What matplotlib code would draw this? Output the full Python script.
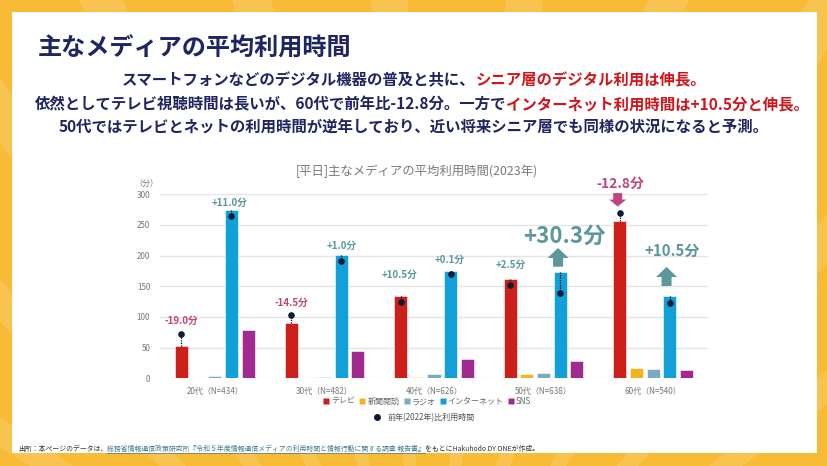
import matplotlib
matplotlib.use('Agg')
import matplotlib.pyplot as plt
from matplotlib.patches import Rectangle, Polygon
from matplotlib.lines import Line2D
import numpy as np

plt.rcParams['font.family'] = ['Noto Sans CJK JP', 'DejaVu Sans']

# ---------------- data ----------------
groups = ['20代（N=434）', '30代（N=482）', '40代（N=626）', '50代（N=638）', '60代（N=540）']
series_names = ['テレビ', '新聞閲読', 'ラジオ', 'インターネット', 'SNS']
tv = [53.2, 89.7, 134.3, 162.0, 256.6]
news = [0.3, 0.4, 2.0, 7.0, 16.0]
radio = [4.3, 2.0, 7.0, 8.6, 15.2]
net = [275.0, 201.1, 175.5, 173.4, 134.3]
sns = [78.8, 45.0, 31.5, 27.7, 13.5]
prev_tv = [72.2, 102.8, 124.0, 152.7, 269.7]
prev_net = [264.7, 191.8, 170.0, 139.7, 122.8]
tv_diff = ['-19.0分', '-14.5分', '+10.5分', '+2.5分', '-12.8分']
net_diff = ['+11.0分', '+1.0分', '+0.1分', '+30.3分', '+10.5分']
yticks = [0, 50, 100, 150, 200, 250, 300]

colors = ['#cc1f1a', '#f2b41c', '#79abc2', '#12a0d8', '#a02a90']
TEAL = '#5b979c'
PINK = '#c2447c'
NAVY = '#1e2560'
RED = '#d0161b'

W, H = 828, 466
fig = plt.figure(figsize=(W / 100, H / 100), dpi=100)
fig.patch.set_facecolor('#f8bb36')


def fx(x):
    return x / W


def fy(y):
    return 1 - y / H


# ---------------- background ----------------
bg = fig.add_axes([0, 0, 1, 1], zorder=0)
bg.set_xlim(0, W)
bg.set_ylim(H, 0)
bg.axis('off')
cx, cy = 420, 700
for ang in np.arange(200, 345, 11):
    a1, a2 = np.deg2rad(ang), np.deg2rad(ang + 3.0)
    R = 1400
    bg.add_patch(Polygon([(cx, cy), (cx + R * np.cos(a1), cy + R * np.sin(a1)),
                          (cx + R * np.cos(a2), cy + R * np.sin(a2))],
                         closed=True, facecolor='#fde3a8', alpha=0.22, lw=0))
bg.add_patch(Rectangle((12, 12), 805, 441, facecolor='white', edgecolor='none'))

# ---------------- texts ----------------
fig.text(fx(38), fy(49), '主なメディアの平均利用時間', size=17.4, weight='bold',
         color=NAVY, va='center', ha='left')

renderer = fig.canvas.get_renderer()


def text_width(s, size, weight):
    t = fig.text(0, 0, s, size=size, weight=weight)
    w = t.get_window_extent(renderer).width
    t.remove()
    return w


def seg_text(segments, x, y, size, weight, center=True, underline=None):
    full = ''.join(s for s, _ in segments)
    total = text_width(full, size, weight)
    x0 = x - total / 2 if center else x
    for i, (s, c) in enumerate(segments):
        rest = ''.join(ss for ss, _ in segments[i:])
        start = x0 + total - text_width(rest, size, weight)
        fig.text(fx(start), fy(y), s, color=c, size=size, weight=weight,
                 va='center', ha='left')
        if underline is not None and i in underline:
            w = text_width(s, size, weight)
            fig.add_artist(Line2D([fx(start), fx(start + w)], [fy(y + 4), fy(y + 4)],
                                  color=c, lw=0.5, transform=fig.transFigure))


seg_text([('スマートフォンなどのデジタル機器の普及と共に、', NAVY),
          ('シニア層のデジタル利用は伸長。', RED)], 414, 80, 11.1, 'bold')
seg_text([('依然としてテレビ視聴時間は長いが、60代で前年比-12.8分。一方で', NAVY),
          ('インターネット利用時間は+10.5分と伸長。', RED)], 422, 104, 11.1, 'bold')
seg_text([('50代ではテレビとネットの利用時間が逆年しており、近い将来シニア層でも同様の状況になると予測。', NAVY)],
         414, 128, 11.1, 'bold')

fig.text(fx(417), fy(171), '[平日]主なメディアの平均利用時間(2023年)', size=8.9,
         weight='normal', color='#7a7a7a', ha='center', va='center')
fig.text(fx(146), fy(183), '（分）', size=5.8, color='#777777', ha='center', va='center')

seg_text([('出所：本ページのデータは、', '#333333'),
          ('総務省情報通信政策研究所『令和５年度情報通信メディアの利用時間と情報行動に関する調査 報告書』', '#3e7d8c'),
          ('をもとにHakuhodo DY ONEが作成。', '#333333')], 18, 449, 4.95, 'normal',
         center=False, underline=[1])
fig.text(fx(822), fy(458), '4', size=4.5, color='#e8c27a', ha='center', va='center')

# ---------------- chart ----------------
ax = fig.add_axes([fx(160), fy(378.3), 548 / W, 184 / H], zorder=2)
ax.set_facecolor('none')
x = np.arange(len(groups))
pitch, bw = 0.152, 0.119
all_series = [tv, news, radio, net, sns]
for i, (vals, col, name) in enumerate(zip(all_series, colors, series_names)):
    ax.bar(x + (i - 2) * pitch, vals, width=bw, color=col, edgecolor='white',
           linewidth=0.4, zorder=3, label=name)

ax.set_xlim(-0.5, 4.5)
ax.set_ylim(0, 300)
ax.set_yticks(yticks)
ax.set_yticklabels([str(v) for v in yticks])
ax.set_xticks(x)
ax.set_xticklabels(groups)
ax.tick_params(axis='both', length=0, labelsize=5.8, labelcolor='#777777')
ax.tick_params(axis='y', pad=7)
ax.tick_params(axis='x', pad=6.3)
ax.grid(axis='y', color='#e4e4e4', lw=1.0)
ax.set_axisbelow(True)
for s in ax.spines.values():
    s.set_visible(False)

tv_x = x - 2 * pitch
net_x = x + pitch
ax.vlines(tv_x, tv, prev_tv, linestyles=(0, (1, 1)), color='black', lw=0.9, zorder=4)
ax.vlines(net_x, net, prev_net, linestyles=(0, (1, 1)), color='black', lw=0.9, zorder=4)
ax.scatter(np.concatenate([tv_x, net_x]), prev_tv + prev_net, s=14,
           color='#0d1b36', zorder=5, label='前年(2022年)比利用時間')

# annotations (label positions)
PXX, PXY = 1 / 109.6, 1 / 0.6133
ann_tv = [(0, 93.9, 7.0), (1, 122.8, 7.0), (2, 168.4, 7.0), (3, 184.7, 7.0), (4, 316.8, 9.9)]
ann_net = [(0, 286.3, 7.0), (1, 216.2, 7.0), (2, 192.9, 7.0), (3, 232.0, 16.0), (4, 207.6, 10.8)]
for (g, yy, sz) in ann_tv:
    lab = tv_diff[g]
    c = PINK if lab.startswith('-') else TEAL
    ax.text(tv_x[g] + (0.0 if g != 2 else -0.01), yy, lab, color=c, size=sz, weight='bold',
            ha='center', va='center', clip_on=False, zorder=6)
xoff_net = {0: -0.013, 1: 0.009, 2: -0.006, 3: 0.034, 4: 0.017}
for (g, yy, sz) in ann_net:
    lab = net_diff[g]
    ax.text(net_x[g] + xoff_net[g], yy, lab, color=TEAL, size=sz, weight='bold',
            ha='center', va='center', clip_on=False, zorder=6)


def block_arrow(xc, y_tail, y_tip, head_w, shaft_w, head_len, color):
    d = 1 if y_tip > y_tail else -1
    hw, sw = head_w * PXX / 2, shaft_w * PXX / 2
    yb = y_tip - d * head_len * PXY
    pts = [(xc - sw, y_tail), (xc - sw, yb), (xc - hw, yb), (xc, y_tip),
           (xc + hw, yb), (xc + sw, yb), (xc + sw, y_tail)]
    ax.add_patch(Polygon(pts, closed=True, facecolor=color, edgecolor='none',
                         clip_on=False, zorder=6))


block_arrow(net_x[3] - 0.02, 182.0, 212.5, 21, 10, 10, TEAL)
block_arrow(net_x[4] - 0.03, 150.5, 181.5, 21, 10, 10, TEAL)
block_arrow(tv_x[4] - 0.02, 302.0, 280.0, 17, 9, 7, PINK)

# legends
bar_handles = [Line2D([0], [0], marker='s', color='none', markerfacecolor=c,
                      markeredgecolor='none', markersize=4) for c in colors]
fig.legend(bar_handles, series_names, loc='center', bbox_to_anchor=(fx(427), fy(401.5)),
           ncol=5, frameon=False, fontsize=5.8, handlelength=0.8,
           handletextpad=0.2, columnspacing=0.5, labelcolor='#666666')
dot_handle = Line2D([0], [0], marker='o', color='none', markerfacecolor='#0d1b36',
                    markeredgecolor='none', markersize=5)
fig.legend([dot_handle], ['前年(2022年)比利用時間'], loc='center',
           bbox_to_anchor=(fx(424), fy(417.5)), frameon=False, fontsize=5.8,
           handlelength=1.0, handletextpad=0.8, labelcolor='#555555')

fig.savefig('out.png', dpi=100, facecolor=fig.get_facecolor())
